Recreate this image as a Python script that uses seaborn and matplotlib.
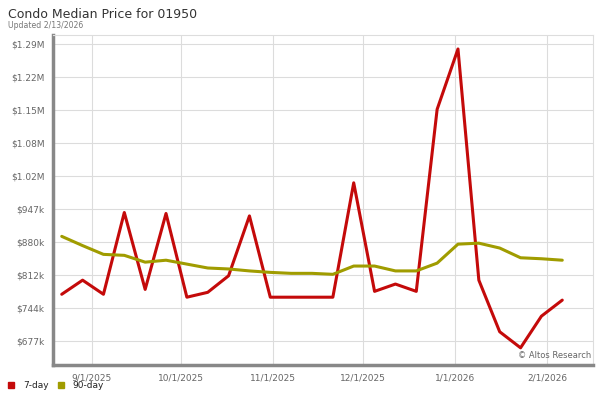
import pandas as pd
import numpy as np
import matplotlib
matplotlib.use("Agg")
import matplotlib.pyplot as plt
import seaborn as sns
from matplotlib.lines import Line2D

# weekly points, 8/22/2025 .. 2/6/2026
dates = ["2025-08-22", "2025-08-29", "2025-09-05", "2025-09-12", "2025-09-19",
         "2025-09-26", "2025-10-03", "2025-10-10", "2025-10-17", "2025-10-24",
         "2025-10-31", "2025-11-07", "2025-11-14", "2025-11-21", "2025-11-28",
         "2025-12-05", "2025-12-12", "2025-12-19", "2025-12-26", "2026-01-02",
         "2026-01-09", "2026-01-16", "2026-01-23", "2026-01-30", "2026-02-06"]

price_7day = [773, 802, 773, 941, 783, 939, 767, 777, 811, 934,
              767, 767, 767, 767, 1002, 779, 794, 779, 1153, 1277,
              802, 696, 663, 728, 761]

price_90day = [892, 873, 855, 853, 839, 843, 835, 827, 825, 821,
               818, 816, 816, 814, 831, 831, 821, 821, 837, 876,
               878, 868, 848, 846, 843]

series_names = ["7-day", "90-day"]
series_colors = ["#c40a0a", "#a09c00"]

ytick_labels = ["$677k", "$744k", "$812k", "$880k", "$947k",
                "$1.02M", "$1.08M", "$1.15M", "$1.22M", "$1.29M"]
xtick_dates = ["2025-09-01", "2025-10-01", "2025-11-01", "2025-12-01", "2026-01-01", "2026-02-01"]
xtick_labels = ["9/1/2025", "10/1/2025", "11/1/2025", "12/1/2025", "1/1/2026", "2/1/2026"]

df = pd.DataFrame({
    "date": pd.to_datetime(dates * 2),
    "price": np.array(price_7day + price_90day) * 1000,
    "series": [series_names[0]] * len(dates) + [series_names[1]] * len(dates),
})

sns.set_style("white")
plt.rcParams["font.family"] = ["DejaVu Sans"]

fig = plt.figure(figsize=(6, 4), dpi=100)
ax = fig.add_axes([0.088, 0.0875, 0.9, 0.825])

sns.lineplot(data=df, x="date", y="price", hue="series",
             palette=dict(zip(series_names, series_colors)),
             linewidth=2.2, ax=ax, legend=False)

yticks = [677000 + i * 67800 for i in range(10)]
ax.set_yticks(yticks)
ax.set_yticklabels(ytick_labels)
ax.set_ylim(627700, 1305700)
ax.set_xticks(pd.to_datetime(xtick_dates))
ax.set_xticklabels(xtick_labels)
ax.set_xlim(pd.Timestamp("2025-08-19"), pd.Timestamp("2026-02-16 06:00"))

ax.grid(True, color="#dcdcdc", linewidth=0.8)
ax.set_axisbelow(True)
ax.tick_params(length=0, labelsize=6.5, colors="#666666", pad=6)
ax.set_xlabel("")
ax.set_ylabel("")

for side in ["top", "right"]:
    ax.spines[side].set_color("#dddddd")
    ax.spines[side].set_linewidth(0.8)
for side in ["left", "bottom"]:
    ax.spines[side].set_color("#888888")
    ax.spines[side].set_linewidth(2.5)

fig.text(0.013, 0.965, "Condo Median Price for 01950", fontsize=9, color="#333333", va="center")
fig.text(0.013, 0.937, "Updated 2/13/2026", fontsize=5.6, color="#777777", va="center")
ax.text(0.998, 0.015, "\u00a9 Altos Research", transform=ax.transAxes, ha="right", va="bottom",
        fontsize=6, color="#666666")

handles = [Line2D([], [], marker="s", linestyle="", markersize=4.3, color=c) for c in series_colors]
fig.legend(handles, series_names, loc="center left", bbox_to_anchor=(0.011, 0.036), ncol=2,
           frameon=False, fontsize=6.5, handletextpad=0.8, columnspacing=0.9, handlelength=1.0,
           borderaxespad=0, borderpad=0, labelcolor="#222222")

fig.savefig("out.png", dpi=100)
